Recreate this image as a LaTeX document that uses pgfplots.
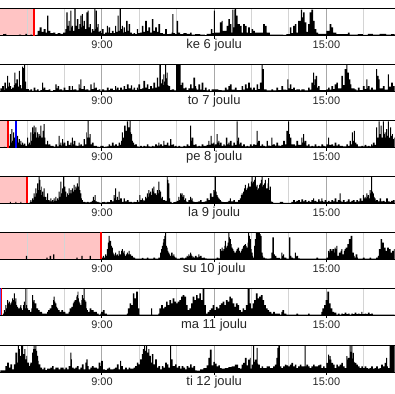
\documentclass[border=0pt]{standalone}
\usepackage{fontspec}
\setmainfont{Liberation Sans}
\usepackage{pgfplots}
\usepackage{pgfplotstable}
\pgfplotsset{compat=1.18}
\definecolor{pinkc}{RGB}{255,196,196}
\definecolor{gminor}{RGB}{212,212,212}
\definecolor{gmajor}{RGB}{168,168,168}
\newcommand{\tickfont}{\fontsize{11}{13}\selectfont}
\newcommand{\dayfont}{\fontsize{13}{15}\selectfont}

% x: position in 1/112.5 h steps from 6:17 (0..1185), h: bar height (0..80 = panel top)
\pgfplotstableread[row sep=\\]{x h\\
0 0\\8 5\\15 6\\18 0\\55 4\\62 0\\75 6\\80 0\\90 4\\95 0\\107 3\\112 15\\118 25\\124 12\\130 20\\136 10\\140 60\\144 15\\150 8\\158 10\\165 5\\172 8\\180 6\\188 10\\195 20\\198 70\\202 30\\205 45\\208 15\\210 75\\213 25\\215 30\\218 15\\222 80\\226 30\\230 50\\234 20\\237 35\\240 60\\243 25\\245 65\\248 30\\250 45\\254 20\\258 70\\262 75\\265 25\\268 35\\272 10\\275 20\\279 15\\282 80\\285 20\\287 75\\290 25\\292 35\\295 12\\298 15\\302 8\\305 20\\310 6\\315 10\\320 30\\323 10\\325 25\\330 8\\335 15\\340 8\\345 30\\348 12\\352 60\\355 15\\358 80\\362 20\\365 30\\368 10\\370 25\\374 12\\378 45\\382 15\\385 35\\390 10\\395 6\\400 8\\405 5\\410 20\\414 8\\420 10\\425 30\\430 12\\435 45\\440 15\\445 25\\450 10\\455 50\\460 15\\465 25\\470 12\\475 35\\480 8\\488 6\\495 20\\500 5\\508 6\\515 10\\517 65\\520 8\\525 5\\530 45\\534 10\\540 5\\550 8\\560 6\\570 10\\575 4\\585 5\\600 4\\615 2\\620 6\\633 20\\637 8\\642 75\\645 10\\660 40\\665 45\\668 15\\680 30\\685 50\\690 35\\694 10\\697 78\\700 25\\703 78\\705 80\\709 60\\713 35\\720 30\\725 10\\730 35\\735 30\\740 10\\745 25\\750 8\\755 20\\760 15\\765 10\\780 10\\790 35\\795 30\\800 10\\810 4\\830 4\\850 3\\860 5\\870 25\\875 8\\880 30\\885 35\\890 10\\895 45\\903 78\\907 55\\910 70\\915 40\\920 12\\925 35\\930 70\\935 78\\940 45\\945 20\\950 10\\955 6\\970 6\\980 15\\990 35\\995 25\\1000 10\\1010 5\\1045 10\\1050 4\\1075 5\\1090 3\\1105 6\\1120 4\\1140 6\\1160 4\\1175 5\\1185 5\\
}\dA

\pgfplotstableread[row sep=\\]{x h\\
0 10\\5 17\\10 5\\12 27\\16 10\\20 47\\23 15\\25 27\\28 17\\32 8\\35 12\\40 20\\42 57\\45 25\\48 37\\52 15\\55 62\\58 20\\62 10\\65 75\\68 70\\71 80\\74 30\\77 8\\85 4\\90 7\\95 3\\100 12\\105 4\\110 7\\115 3\\120 5\\125 27\\128 8\\130 12\\135 5\\145 7\\150 3\\158 5\\165 22\\169 10\\172 17\\176 5\\178 7\\185 4\\190 12\\195 5\\205 17\\210 5\\215 17\\218 6\\222 7\\228 4\\235 22\\238 10\\240 37\\243 8\\250 17\\254 6\\258 7\\264 4\\270 22\\274 8\\280 27\\283 10\\285 12\\290 5\\295 7\\300 3\\305 7\\312 4\\320 12\\325 5\\330 9\\338 5\\345 17\\348 6\\350 12\\355 5\\360 12\\365 6\\370 17\\375 8\\380 22\\385 10\\392 19\\396 6\\400 12\\405 5\\410 12\\413 6\\415 22\\420 8\\425 10\\430 32\\435 12\\440 22\\445 8\\450 17\\455 10\\460 27\\465 12\\470 42\\474 15\\478 80\\482 25\\485 37\\488 20\\490 52\\493 30\\495 80\\498 40\\500 57\\503 20\\505 17\\510 5\\515 7\\522 4\\528 80\\542 20\\545 27\\550 10\\555 12\\560 5\\565 10\\570 22\\575 10\\580 42\\585 17\\588 10\\590 6\\595 22\\600 6\\605 27\\610 5\\615 12\\620 4\\625 7\\630 3\\635 7\\645 7\\655 5\\665 4\\675 12\\680 6\\685 17\\690 22\\695 6\\705 12\\710 5\\720 5\\725 17\\730 6\\735 22\\740 10\\745 27\\750 12\\755 6\\760 12\\765 5\\770 22\\775 8\\780 27\\785 80\\788 67\\792 7\\800 4\\815 7\\820 4\\830 12\\835 5\\845 17\\850 6\\860 5\\863 37\\866 10\\870 22\\875 8\\880 12\\885 5\\890 7\\900 4\\905 7\\915 4\\925 12\\930 6\\935 27\\940 57\\943 20\\945 37\\948 47\\952 12\\955 17\\960 5\\965 5\\980 7\\985 12\\990 6\\995 17\\1000 8\\1005 22\\1010 27\\1015 10\\1025 47\\1030 20\\1035 67\\1040 80\\1043 57\\1048 37\\1052 22\\1055 10\\1065 7\\1070 4\\1075 12\\1080 5\\1090 17\\1095 8\\1100 37\\1103 10\\1105 17\\1110 6\\1115 12\\1120 6\\1130 67\\1133 47\\1137 37\\1140 10\\1150 17\\1155 6\\1165 52\\1168 15\\1175 27\\1180 17\\1185 10\\
}\dB

\pgfplotstableread[row sep=\\]{x h\\
0 0\\10 2\\15 0\\25 5\\28 40\\31 15\\33 55\\36 20\\38 45\\41 15\\42 30\\45 10\\50 35\\53 15\\55 25\\58 10\\60 20\\63 8\\65 15\\68 8\\70 12\\75 5\\80 30\\83 10\\85 15\\88 8\\90 45\\93 20\\95 60\\98 40\\100 65\\103 45\\105 60\\108 30\\110 45\\113 30\\115 40\\118 35\\120 65\\123 30\\127 50\\130 70\\133 30\\135 10\\140 20\\143 8\\145 10\\150 5\\155 5\\160 3\\165 10\\170 4\\175 35\\178 8\\180 15\\183 6\\185 25\\188 10\\190 15\\195 5\\200 20\\205 8\\210 15\\213 6\\215 30\\218 10\\220 20\\225 6\\230 5\\235 15\\238 6\\240 10\\245 5\\250 25\\254 10\\258 45\\260 30\\262 80\\265 30\\268 40\\271 10\\275 15\\280 5\\285 5\\290 3\\295 2\\300 5\\305 5\\310 2\\315 3\\320 4\\325 10\\330 5\\335 15\\340 6\\345 10\\350 5\\355 15\\360 8\\363 20\\365 45\\368 30\\372 65\\376 50\\380 78\\384 60\\388 80\\391 45\\393 40\\396 20\\398 15\\402 8\\405 10\\410 4\\415 3\\420 5\\425 3\\430 5\\435 4\\440 10\\445 4\\450 3\\455 5\\460 4\\465 10\\470 6\\475 15\\478 6\\480 10\\485 5\\490 20\\493 8\\500 15\\505 6\\510 25\\514 8\\518 10\\522 4\\525 5\\530 3\\535 5\\540 3\\550 5\\555 4\\560 10\\565 5\\570 65\\573 20\\575 30\\580 8\\585 10\\590 4\\595 5\\600 4\\605 10\\610 5\\615 5\\620 8\\625 20\\628 8\\632 35\\635 12\\640 15\\643 6\\645 10\\650 40\\653 15\\655 20\\658 8\\660 15\\665 5\\670 10\\674 6\\678 30\\682 10\\685 15\\688 8\\690 20\\695 6\\700 15\\705 8\\710 78\\713 20\\715 30\\718 10\\720 15\\725 5\\730 10\\735 4\\740 5\\745 4\\750 10\\755 5\\760 10\\765 8\\770 50\\773 15\\775 20\\780 5\\785 10\\790 5\\795 4\\800 20\\804 6\\810 5\\815 30\\818 8\\820 10\\825 6\\830 15\\835 6\\840 5\\845 8\\850 20\\855 10\\860 50\\865 78\\868 40\\870 30\\875 10\\880 10\\885 6\\890 20\\895 8\\905 30\\908 15\\910 40\\913 15\\915 20\\920 6\\925 10\\930 4\\935 5\\940 4\\945 10\\950 4\\955 5\\960 4\\965 10\\970 5\\975 4\\980 10\\985 30\\988 8\\995 10\\1000 5\\1005 15\\1010 6\\1015 10\\1020 5\\1025 5\\1030 4\\1040 10\\1045 5\\1050 20\\1054 10\\1057 45\\1060 20\\1063 50\\1066 15\\1070 10\\1075 4\\1085 5\\1090 4\\1095 8\\1100 4\\1105 5\\1110 4\\1115 10\\1118 6\\1120 15\\1125 8\\1130 60\\1133 30\\1137 78\\1140 40\\1143 65\\1146 30\\1150 78\\1153 40\\1155 45\\1158 30\\1160 55\\1163 35\\1165 78\\1168 30\\1172 60\\1175 35\\1178 40\\1180 25\\1183 30\\1185 30\\
}\dC

\pgfplotstableread[row sep=\\]{x h\\
0 0\\28 5\\31 0\\45 5\\48 0\\60 5\\63 0\\80 0\\85 2\\88 5\\90 10\\93 5\\95 15\\98 10\\100 30\\103 20\\105 45\\108 30\\110 60\\113 40\\115 78\\118 70\\120 40\\122 50\\124 25\\125 35\\128 20\\130 45\\133 20\\135 20\\138 10\\140 30\\143 10\\145 10\\148 6\\150 15\\153 6\\155 10\\158 5\\160 15\\163 8\\165 20\\168 8\\170 15\\173 10\\175 35\\178 20\\180 65\\183 30\\185 45\\188 78\\191 35\\192 50\\195 35\\198 20\\200 30\\203 25\\205 45\\208 30\\210 40\\213 30\\215 45\\218 35\\220 55\\223 40\\225 50\\228 45\\230 60\\233 50\\235 78\\238 40\\240 30\\243 15\\245 10\\248 5\\250 5\\255 3\\260 5\\265 3\\270 5\\275 8\\278 20\\281 10\\283 25\\286 6\\290 5\\295 3\\300 2\\305 4\\310 5\\315 3\\320 5\\325 4\\330 10\\335 6\\340 25\\343 15\\345 45\\348 10\\350 20\\353 10\\355 35\\358 10\\360 15\\365 5\\370 15\\374 6\\380 10\\385 5\\390 5\\395 3\\400 5\\405 4\\410 10\\414 5\\418 25\\421 10\\425 15\\428 6\\430 10\\433 8\\435 20\\438 15\\440 30\\443 20\\445 40\\448 30\\450 35\\453 25\\455 45\\458 35\\460 50\\463 30\\465 30\\468 25\\470 40\\473 30\\475 65\\478 40\\480 35\\483 15\\485 20\\488 10\\490 10\\495 8\\500 78\\503 70\\505 60\\508 15\\510 5\\515 2\\520 4\\525 5\\530 8\\535 20\\538 10\\540 30\\543 25\\545 30\\548 20\\550 25\\553 10\\555 15\\558 6\\560 5\\565 10\\570 20\\573 10\\575 15\\578 6\\580 5\\585 4\\590 5\\595 6\\600 10\\605 4\\610 5\\615 6\\620 15\\625 10\\630 30\\635 20\\640 40\\643 35\\645 78\\648 35\\650 25\\653 20\\655 15\\658 12\\660 10\\663 6\\665 5\\670 4\\680 5\\685 8\\690 15\\693 6\\700 10\\705 5\\710 5\\715 10\\720 15\\723 25\\725 30\\728 25\\730 35\\733 45\\735 55\\738 40\\740 45\\743 50\\745 60\\748 50\\750 50\\753 65\\755 78\\758 60\\760 65\\763 70\\765 78\\768 50\\770 55\\773 40\\775 45\\778 55\\780 60\\783 70\\785 78\\788 50\\790 55\\793 60\\795 70\\798 45\\800 45\\803 60\\805 75\\808 40\\810 50\\813 8\\815 5\\820 2\\830 2\\840 5\\850 2\\860 2\\870 2\\875 5\\880 10\\885 5\\890 8\\895 10\\900 5\\905 12\\910 6\\915 10\\920 5\\925 8\\930 5\\935 10\\940 15\\943 6\\945 8\\950 5\\955 12\\960 6\\965 15\\968 8\\970 5\\975 10\\980 5\\985 8\\990 5\\995 10\\1000 6\\1005 15\\1010 5\\1015 10\\1020 30\\1023 8\\1025 5\\1030 10\\1035 4\\1040 6\\1045 12\\1050 5\\1055 8\\1060 10\\1065 5\\1070 10\\1075 6\\1080 15\\1085 8\\1090 25\\1093 15\\1095 20\\1098 15\\1100 30\\1103 20\\1105 25\\1108 15\\1110 40\\1113 30\\1115 78\\1118 35\\1120 30\\1123 20\\1125 15\\1128 8\\1130 10\\1135 6\\1140 15\\1145 6\\1150 8\\1155 5\\1160 15\\1165 6\\1170 5\\1175 8\\1180 10\\1185 8\\
}\dD

\pgfplotstableread[row sep=\\]{x h\\
0 0\\76 10\\80 0\\138 5\\142 0\\148 10\\152 0\\158 15\\162 0\\228 5\\232 0\\243 10\\247 0\\268 10\\272 0\\303 0\\306 5\\308 10\\312 5\\315 15\\318 10\\320 30\\323 50\\325 70\\328 55\\330 55\\333 40\\335 35\\338 20\\340 15\\343 10\\345 20\\348 12\\350 15\\353 10\\355 25\\358 15\\360 15\\363 25\\365 30\\368 20\\370 25\\373 15\\375 10\\378 15\\380 20\\383 15\\385 25\\388 15\\390 15\\393 10\\395 10\\398 6\\400 5\\405 2\\425 4\\430 2\\440 5\\445 2\\460 5\\465 2\\475 5\\480 20\\483 30\\485 40\\488 50\\490 60\\493 70\\495 78\\498 40\\500 35\\503 25\\505 20\\508 15\\510 10\\513 20\\515 20\\518 10\\520 15\\523 8\\525 5\\530 2\\540 4\\545 5\\550 3\\555 5\\560 10\\563 8\\565 15\\568 10\\570 20\\573 15\\575 10\\578 5\\580 8\\583 4\\585 10\\590 6\\595 15\\598 8\\600 10\\605 4\\610 5\\615 3\\620 2\\650 5\\655 3\\660 30\\663 25\\665 35\\668 25\\670 30\\673 40\\675 55\\678 35\\680 40\\683 50\\685 78\\688 65\\690 60\\693 45\\695 35\\698 30\\700 25\\703 20\\705 20\\708 25\\710 30\\713 35\\715 35\\718 25\\720 20\\723 25\\725 30\\728 35\\730 40\\733 42\\735 45\\738 40\\740 35\\743 50\\745 78\\748 70\\750 60\\753 30\\755 20\\758 10\\760 5\\763 40\\765 60\\768 78\\778 78\\780 75\\782 70\\785 20\\788 10\\790 5\\795 3\\800 2\\810 3\\815 20\\818 65\\822 15\\825 10\\830 4\\840 2\\845 20\\848 10\\850 15\\853 5\\860 2\\868 65\\872 10\\875 5\\880 3\\885 20\\888 8\\890 10\\895 3\\900 2\\950 5\\955 2\\980 5\\985 25\\988 20\\990 30\\995 25\\998 30\\1003 20\\1005 35\\1008 30\\1010 40\\1013 10\\1018 20\\1023 25\\1025 30\\1028 15\\1033 25\\1035 30\\1038 35\\1043 45\\1048 60\\1053 70\\1058 20\\1063 10\\1065 5\\1068 15\\1073 5\\1075 2\\1090 5\\1095 2\\1110 5\\1115 2\\1130 5\\1135 10\\1138 30\\1143 60\\1148 50\\1153 35\\1158 25\\1163 35\\1168 30\\1173 20\\1178 25\\1183 30\\1185 30\\
}\dE

\pgfplotstableread[row sep=\\]{x h\\
0 0\\7 5\\10 15\\13 10\\15 30\\18 20\\20 45\\23 35\\25 40\\28 30\\30 35\\33 40\\35 50\\38 45\\40 65\\43 40\\45 50\\48 30\\50 25\\53 20\\58 25\\60 30\\63 20\\65 15\\68 30\\70 40\\73 20\\75 80\\78 30\\80 20\\83 15\\88 10\\93 20\\95 60\\98 40\\100 45\\103 35\\108 20\\113 15\\118 10\\125 5\\140 10\\143 15\\148 20\\153 30\\158 45\\160 55\\163 40\\165 35\\168 25\\170 20\\173 15\\178 10\\183 15\\188 10\\195 5\\205 10\\208 20\\213 25\\218 35\\220 40\\223 45\\228 55\\230 60\\232 70\\234 50\\236 40\\238 35\\240 30\\243 45\\245 60\\248 50\\250 80\\253 45\\255 40\\258 20\\260 15\\263 10\\268 20\\273 15\\280 10\\290 5\\295 2\\300 5\\303 10\\308 15\\313 5\\320 2\\380 5\\383 20\\388 35\\393 30\\398 65\\403 50\\408 70\\413 20\\418 2\\453 20\\456 2\\475 5\\478 20\\483 30\\488 20\\493 25\\498 40\\503 30\\508 45\\513 35\\518 50\\523 40\\528 35\\533 40\\538 45\\543 55\\548 60\\553 55\\558 30\\563 15\\568 20\\573 35\\578 55\\583 45\\588 60\\593 50\\598 65\\603 45\\608 80\\613 30\\618 5\\623 10\\628 15\\633 20\\638 30\\643 15\\648 25\\653 20\\658 30\\663 35\\668 40\\673 30\\678 45\\683 40\\688 55\\693 50\\698 35\\703 25\\708 35\\713 30\\718 15\\723 10\\728 20\\733 15\\738 30\\743 80\\749 35\\753 20\\758 35\\763 45\\768 65\\773 50\\778 55\\783 60\\788 45\\793 30\\798 20\\803 15\\808 10\\815 5\\820 10\\825 5\\840 2\\845 10\\848 15\\853 5\\860 2\\890 5\\895 2\\925 5\\930 2\\965 10\\968 20\\973 30\\978 45\\983 70\\988 35\\993 20\\998 10\\1003 8\\1010 2\\1015 5\\1020 2\\1025 5\\1030 3\\1035 8\\1040 3\\1045 5\\1050 2\\1055 5\\1060 3\\1065 8\\1070 3\\1075 5\\1080 3\\1085 10\\1088 3\\1095 5\\1100 3\\1105 8\\1110 3\\1115 5\\1120 2\\1185 2\\
}\dF

\pgfplotstableread[row sep=\\]{x h\\
0 5\\15 18\\20 28\\25 13\\30 23\\35 8\\40 23\\45 58\\50 28\\52 80\\55 68\\58 48\\62 80\\65 78\\68 53\\72 68\\75 38\\78 48\\80 28\\85 18\\88 23\\90 28\\95 58\\98 68\\100 78\\103 68\\105 78\\108 63\\110 48\\113 33\\115 23\\120 13\\125 8\\130 13\\135 6\\140 10\\150 13\\155 18\\160 8\\165 13\\175 8\\180 13\\190 8\\195 13\\200 8\\205 18\\210 58\\213 38\\215 13\\220 10\\225 13\\230 18\\235 8\\240 13\\245 23\\250 8\\255 28\\258 38\\262 18\\265 8\\270 13\\275 18\\280 13\\290 10\\295 28\\300 18\\303 33\\308 8\\315 6\\320 10\\325 13\\330 8\\340 10\\345 13\\350 23\\355 8\\360 33\\363 18\\368 8\\375 13\\380 8\\385 13\\390 10\\400 13\\405 18\\410 28\\415 23\\420 38\\425 53\\428 68\\432 78\\435 63\\438 78\\441 58\\445 68\\448 48\\452 28\\455 53\\460 23\\465 38\\470 13\\475 18\\480 8\\485 18\\490 13\\495 28\\500 23\\505 13\\510 78\\513 38\\518 18\\525 23\\530 13\\535 18\\540 10\\545 18\\550 13\\555 8\\560 18\\565 13\\570 23\\575 13\\580 18\\585 5\\590 4\\600 8\\610 12\\620 20\\625 42\\630 67\\635 20\\640 30\\645 25\\650 17\\655 20\\660 12\\665 10\\675 12\\685 15\\695 17\\705 22\\715 12\\720 10\\725 22\\730 27\\735 42\\740 20\\745 37\\750 42\\752 10\\755 22\\760 77\\763 30\\765 37\\770 72\\773 25\\775 22\\780 12\\785 17\\790 12\\800 17\\810 12\\820 17\\825 22\\830 42\\833 72\\836 80\\840 17\\845 12\\850 17\\855 22\\860 20\\865 17\\870 22\\875 27\\880 17\\885 22\\890 12\\895 17\\900 22\\905 17\\915 80\\918 17\\920 22\\925 17\\930 12\\935 17\\940 22\\945 17\\955 20\\960 22\\965 12\\970 17\\975 12\\980 27\\985 52\\988 37\\990 47\\993 37\\995 27\\1000 22\\1005 12\\1010 22\\1015 17\\1020 22\\1025 27\\1030 17\\1035 12\\1040 47\\1043 37\\1045 42\\1050 80\\1053 60\\1055 77\\1058 40\\1060 57\\1063 30\\1065 27\\1070 22\\1075 17\\1080 12\\1085 17\\1090 12\\1095 17\\1100 12\\1105 10\\1110 12\\1115 17\\1120 10\\1125 12\\1130 17\\1135 10\\1140 12\\1145 22\\1150 17\\1155 27\\1160 42\\1163 17\\1165 12\\1170 80\\1185 80\\
}\dG

\pgfplotsset{panel/.style={
  width=395pt, height=27pt, scale only axis,
  xmin=6.288, xmax=16.821, ymin=0, ymax=80,
  xtick={9,12,15}, minor xtick={7,8,10,11,13,14,16},
  xmajorgrids, xminorgrids,
  major grid style={draw=gmajor, line width=1pt},
  minor grid style={draw=gminor, line width=1pt},
  ytick=\empty,
  xtick pos=bottom,
  tick align=outside, major tick length=3pt, minor tick length=0pt,
  major tick style={black, line width=0.9pt},
  separate axis lines,
  x axis line style={black, line width=1pt},
  y axis line style={draw=none},
  xticklabel style={anchor=base, yshift=-10pt, text=black!85},
  set layers,
}}

\newcommand{\panel}[4]{%
  \begin{axis}[panel, at={(0pt,-#1pt)}, anchor=north west,
    xticklabels={{\tickfont 9:00},{\dayfont #2},{\tickfont 15:00}}]
    \addplot[fill=black, draw=none, const plot]
      table[x expr=6.288+\thisrowno{0}/112.5, y index=1] {#3} \closedcycle;
    #4
  \end{axis}}

\begin{document}
\begin{tikzpicture}
\panel{9}{ke 6 joulu}{\dA}{%
  \addplot[fill=pinkc, draw=none, on layer=axis background] coordinates {(6.288,80) (7.177,80)} \closedcycle;
  \addplot[red, line width=1.6pt] coordinates {(7.177,0) (7.177,80)};}
\panel{65}{to 7 joulu}{\dB}{}
\panel{121}{pe 8 joulu}{\dC}{%
  \addplot[fill=pinkc, draw=none, on layer=axis background] coordinates {(6.288,80) (6.484,80)} \closedcycle;
  \addplot[red, line width=1.6pt] coordinates {(6.484,0) (6.484,80)};
  \addplot[blue, line width=1.6pt] coordinates {(6.697,0) (6.697,80)};}
\panel{177}{la 9 joulu}{\dD}{%
  \addplot[fill=pinkc, draw=none, on layer=axis background] coordinates {(6.288,80) (6.990,80)} \closedcycle;
  \addplot[red, line width=1.6pt] coordinates {(6.990,0) (6.990,80)};}
\panel{233}{su 10 joulu}{\dE}{%
  \addplot[fill=pinkc, draw=none, on layer=axis background] coordinates {(6.288,80) (8.981,80)} \closedcycle;
  \addplot[red, line width=1.6pt] coordinates {(8.981,0) (8.981,80)};}
\panel{289}{ma 11 joulu}{\dF}{%
  \addplot[blue, line width=1pt] coordinates {(6.297,0) (6.297,80)};
  \addplot[red, line width=1.2pt] coordinates {(6.318,0) (6.318,80)};}
\panel{346}{ti 12 joulu}{\dG}{}
\path (0pt,0pt) rectangle (395pt,-395pt);
\end{tikzpicture}
\end{document}
